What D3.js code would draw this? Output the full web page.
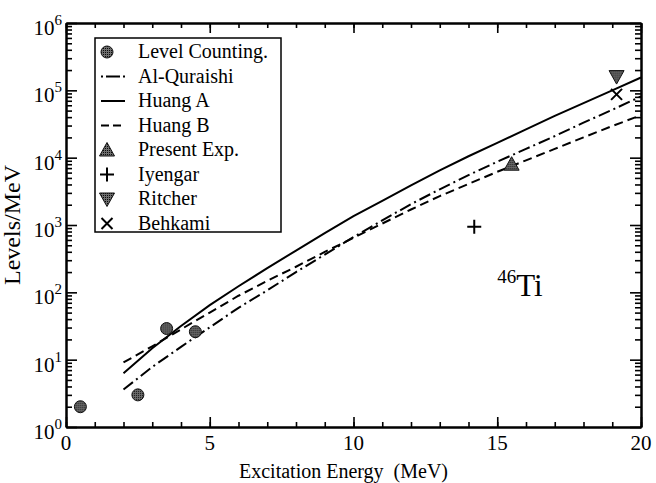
<!DOCTYPE html>
<html>
<head>
<meta charset="utf-8">
<script src="https://cdn.jsdelivr.net/npm/d3@7"></script>
<style>
body{margin:0;background:#fff;}
text{font-family:"Liberation Serif","Times New Roman",serif;fill:#000;}
</style>
</head>
<body>
<div id="container"></div>
<script>
// level counting points
var levelE = [0.5, 2.5, 3.5, 4.5];
var levelN = [2.0, 3.0, 29, 26];

// model curves (Levels/MeV) at excitation energies
var curveE = [2,3,4,5,6,7,8,9,10,11,12,13,14,15,16,17,18,19,20];
var alQuraishi = [3.6,7.8,15.5,30.2,58.9,107,200,363,661,1170,2040,3390,5500,8710,13500,20900,33100,51300,81300];
var huangA = [6.3,14.8,31.6,64.6,123,229,417,759,1350,2290,3890,6460,10500,16600,26300,41700,64600,100000,155000];
var huangB = [9.1,15.8,28.2,50.1,89,148,240,398,646,1050,1700,2690,4070,6170,9120,13500,20000,29500,42700];

// single measurements
var presentExp = [[15.5, 8000]];
var iyengar = [[14.2, 940]];
var ritcher = [[19.15, 160000]];
var behkami = [[19.15, 87000]];

var xMajor = [0,5,10,15,20];
var xMinor = d3.range(0,21,1);
var yMajor = [1,10,100,1e3,1e4,1e5,1e6];
var yExp = [0,1,2,3,4,5,6];
var legendLabels = ["Level Counting.","Al-Quraishi","Huang A","Huang B","Present Exp.","Iyengar","Ritcher","Behkami"];

var W = 656, H = 483;
var margin = {top: 23, right: 15, bottom: 56, left: 66};
var width = W - margin.left - margin.right,
    height = H - margin.top - margin.bottom;

var svg = d3.select("#container").append("svg").attr("width",W).attr("height",H);

// grey dotted fill used by the markers
var defs = svg.append("defs");
var pat = defs.append("pattern").attr("id","dots").attr("width",2).attr("height",2)
  .attr("patternUnits","userSpaceOnUse");
pat.append("rect").attr("width",2).attr("height",2).attr("fill","#6e6e6e");
pat.append("rect").attr("width",1).attr("height",1).attr("fill","#0a0a0a");

var g = svg.append("g").attr("transform","translate("+margin.left+","+margin.top+")");

var x = d3.scaleLinear().domain([0,20]).range([0,width]);
var y = d3.scaleLog().domain([1,1e6]).range([height,0]);

// minor y ticks 2..9 in each decade
var yMinor = [];
yMajor.slice(0,-1).forEach(function(d){ for (var k=2;k<10;k++) yMinor.push(d*k); });

function styleAxis(sel){
  sel.selectAll("path").attr("stroke","#000").attr("stroke-width",2);
  sel.selectAll("line").attr("stroke","#000").attr("stroke-width",1.6);
  sel.selectAll("text").remove();
}

// bottom / top axes (ticks inward)
g.append("g").attr("transform","translate(0,"+height+")")
  .call(d3.axisBottom(x).tickValues(xMinor).tickSize(-5).tickSizeOuter(0)).call(styleAxis);
g.append("g").attr("transform","translate(0,"+height+")")
  .call(d3.axisBottom(x).tickValues(xMajor).tickSize(-10).tickSizeOuter(0)).call(styleAxis);
g.append("g")
  .call(d3.axisTop(x).tickValues(xMinor).tickSize(-5).tickSizeOuter(0)).call(styleAxis);
g.append("g")
  .call(d3.axisTop(x).tickValues(xMajor).tickSize(-10).tickSizeOuter(0)).call(styleAxis);
// left / right axes
g.append("g").call(d3.axisLeft(y).tickValues(yMinor).tickSize(-6).tickSizeOuter(0)).call(styleAxis);
g.append("g").call(d3.axisLeft(y).tickValues(yMajor).tickSize(-11).tickSizeOuter(0)).call(styleAxis);
g.append("g").attr("transform","translate("+width+",0)")
  .call(d3.axisRight(y).tickValues(yMinor).tickSize(-6).tickSizeOuter(0)).call(styleAxis);
g.append("g").attr("transform","translate("+width+",0)")
  .call(d3.axisRight(y).tickValues(yMajor).tickSize(-11).tickSizeOuter(0)).call(styleAxis);

// x tick labels
g.selectAll(".xlab").data(xMajor).enter().append("text")
  .attr("x",function(d){return x(d);}).attr("y",height+23)
  .attr("text-anchor","middle").style("font-size","21px").text(function(d){return d;});

// y tick labels 10^n
var yl = g.selectAll(".ylab").data(yExp).enter().append("text")
  .attr("x",-4).attr("y",function(d){return y(Math.pow(10,d))+12;})
  .attr("text-anchor","end").style("font-size","21px");
yl.append("tspan").text("10");
yl.append("tspan").attr("dy",-10).style("font-size","15px").text(function(d){return d;});

// axis titles
g.append("text").attr("x",width/2 - 10).attr("y",height+51).attr("text-anchor","middle")
  .style("font-size","20px").text("Excitation Energy\u00a0\u00a0(MeV)");
g.append("text").attr("transform","translate(-46,"+(height/2)+") rotate(-90)")
  .attr("text-anchor","middle").style("font-size","24px").text("Levels/MeV");

// curves
var line = d3.line()
  .x(function(d){return x(d[0]);})
  .y(function(d){return y(d[1]);});
var styles = [
  {data: alQuraishi, dash: "12,4,2,4"},
  {data: huangA, dash: null},
  {data: huangB, dash: "9,5"}
];
styles.forEach(function(s){
  g.append("path").datum(curveE.map(function(e,i){return [e, s.data[i]];}))
    .attr("d",line).attr("fill","none").attr("stroke","#000").attr("stroke-width",2)
    .attr("stroke-dasharray",s.dash);
});

// markers
function circleM(sel){ sel.append("circle").attr("r",6).attr("fill","url(#dots)").attr("stroke","#111").attr("stroke-width",1); }
function triUp(sel){ sel.append("path").attr("d","M0,-7.5L7.5,6L-7.5,6Z").attr("fill","url(#dots)").attr("stroke","#111").attr("stroke-width",1); }
function triDown(sel){ sel.append("path").attr("d","M0,7.5L7.5,-6L-7.5,-6Z").attr("fill","url(#dots)").attr("stroke","#111").attr("stroke-width",1); }
function plusM(sel){ sel.append("path").attr("d","M-7,0H7M0,-7V7").attr("stroke","#000").attr("stroke-width",2); }
function crossM(sel){ sel.append("path").attr("d","M-5.5,-5.5L5.5,5.5M-5.5,5.5L5.5,-5.5").attr("stroke","#000").attr("stroke-width",2); }

function drawPoints(data, mark){
  var s = g.append("g").selectAll("g").data(data).enter().append("g")
    .attr("transform",function(d){return "translate("+x(d[0])+","+y(d[1])+")";});
  mark(s);
}
drawPoints(levelE.map(function(e,i){return [e, levelN[i]];}), circleM);
drawPoints(presentExp, triUp);
drawPoints(iyengar, plusM);
drawPoints(ritcher, triDown);
drawPoints(behkami, crossM);

// 46Ti label
var ti = g.append("text").attr("x",x(15.0)).attr("y",y(100)+4).style("font-size","31px");
ti.append("tspan").attr("dy",-13).style("font-size","19px").text("46");
ti.append("tspan").attr("dy",13).text("Ti");

// legend
var lg = svg.append("g").attr("transform","translate(95,38)");
lg.append("rect").attr("width",186).attr("height",194).attr("fill","#fff").attr("stroke","#000").attr("stroke-width",1.5);
var rowY = function(i){ return 14 + i*24.5; };
legendLabels.forEach(function(t,i){
  lg.append("text").attr("x",43).attr("y",rowY(i)+6).style("font-size","20px").text(t);
});
var sym = [circleM, null, null, null, triUp, plusM, triDown, crossM];
sym.forEach(function(m,i){
  if (m) { var s = lg.append("g").attr("transform","translate(12,"+rowY(i)+")"); m(s); }
});
[["2,3,12,0",1],[null,2],["8,4",3]].forEach(function(p){
  lg.append("line").attr("x1",6).attr("x2",30).attr("y1",rowY(p[1])).attr("y2",rowY(p[1]))
    .attr("stroke","#000").attr("stroke-width",2).attr("stroke-dasharray",p[0]);
});
</script>
</body>
</html>
